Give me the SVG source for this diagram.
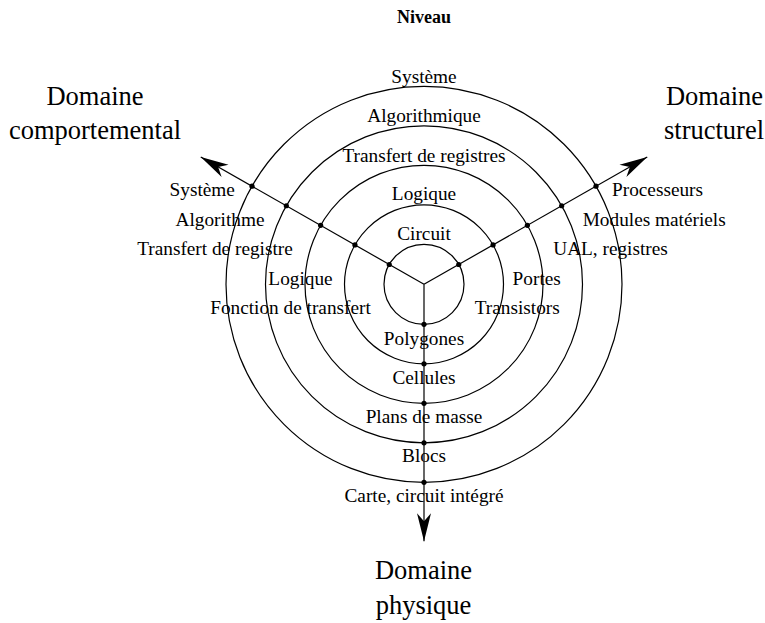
<svg xmlns="http://www.w3.org/2000/svg" width="765" height="623" viewBox="0 0 765 623">
<style>
  .ring { fill: none; stroke: #000; stroke-width: 1.2; }
  .axis { fill: none; stroke: #000; stroke-width: 1.2; marker-end: url(#arrow); }
  .dot { fill: #000; }
  text { font-family: "Liberation Serif", "Times New Roman", serif; fill: #000; }
  .lbl { font-size: 19.3px; text-anchor: middle; }
  .dom { font-size: 26.5px; text-anchor: middle; }
  .title { font-size: 18px; font-weight: bold; text-anchor: middle; }
</style>
<defs>
  <marker id="arrow" viewBox="-29 -8 30 16" refX="0" refY="0" markerWidth="30" markerHeight="16" markerUnits="userSpaceOnUse" orient="auto">
    <path d="M0,0 L-28,-7 L-20,0 L-28,7 Z" fill="#000"/>
  </marker>
</defs>
<rect width="765" height="623" fill="#fff"/>

<g id="title"><text class="title" x="424" y="23">Niveau</text></g>

<g id="rings">
  <circle class="ring" cx="424" cy="284.3" r="40"/>
  <circle class="ring" cx="424" cy="284.3" r="79.5"/>
  <circle class="ring" cx="424" cy="284.3" r="119"/>
  <circle class="ring" cx="424" cy="284.3" r="158.5"/>
  <circle class="ring" cx="424" cy="284.3" r="198"/>
</g>

<g id="connectors">
  <line class="axis" x1="424" y1="284.3" x2="200.76" y2="156.97"/>
  <line class="axis" x1="424" y1="284.3" x2="647.24" y2="156.97"/>
  <line class="axis" x1="424" y1="284.3" x2="424" y2="541.3"/>
</g>

<g id="dots">
  <circle class="dot" cx="389.25" cy="264.48" r="2.6"/>
  <circle class="dot" cx="354.94" cy="244.91" r="2.6"/>
  <circle class="dot" cx="320.63" cy="225.34" r="2.6"/>
  <circle class="dot" cx="286.32" cy="205.77" r="2.6"/>
  <circle class="dot" cx="252.01" cy="186.2" r="2.6"/>
  <circle class="dot" cx="458.75" cy="264.48" r="2.6"/>
  <circle class="dot" cx="493.06" cy="244.91" r="2.6"/>
  <circle class="dot" cx="527.37" cy="225.34" r="2.6"/>
  <circle class="dot" cx="561.68" cy="205.77" r="2.6"/>
  <circle class="dot" cx="595.99" cy="186.2" r="2.6"/>
  <circle class="dot" cx="424" cy="324.3" r="2.6"/>
  <circle class="dot" cx="424" cy="363.8" r="2.6"/>
  <circle class="dot" cx="424" cy="403.3" r="2.6"/>
  <circle class="dot" cx="424" cy="442.8" r="2.6"/>
  <circle class="dot" cx="424" cy="482.3" r="2.6"/>
</g>

<g id="levels">
  <text class="lbl" x="424" y="83.3">Système</text>
  <text class="lbl" x="424" y="121.7">Algorithmique</text>
  <text class="lbl" x="424" y="161.5">Transfert de registres</text>
  <text class="lbl" x="424" y="200.3">Logique</text>
  <text class="lbl" x="424" y="240">Circuit</text>
</g>

<g id="behavioural">
  <text class="dom" x="95" y="105">Domaine</text>
  <text class="dom" x="95" y="138.5">comportemental</text>
  <text class="lbl" x="202.2" y="196">Système</text>
  <text class="lbl" x="220" y="226">Algorithme</text>
  <text class="lbl" x="215" y="255">Transfert de registre</text>
  <text class="lbl" x="300.5" y="285">Logique</text>
  <text class="lbl" x="290.5" y="314">Fonction de transfert</text>
</g>

<g id="structural">
  <text class="dom" x="714.5" y="105">Domaine</text>
  <text class="dom" x="714" y="138.5">structurel</text>
  <text class="lbl" x="657.5" y="196">Processeurs</text>
  <text class="lbl" x="654.2" y="226">Modules matériels</text>
  <text class="lbl" x="610.5" y="255">UAL, registres</text>
  <text class="lbl" x="536.7" y="285">Portes</text>
  <text class="lbl" x="517.2" y="314">Transistors</text>
</g>

<g id="physical">
  <text class="lbl" x="424" y="345">Polygones</text>
  <text class="lbl" x="424" y="383.5">Cellules</text>
  <text class="lbl" x="424" y="423.3">Plans de masse</text>
  <text class="lbl" x="424" y="462.3">Blocs</text>
  <text class="lbl" x="424" y="501.7">Carte, circuit intégré</text>
  <text class="dom" x="423.5" y="579">Domaine</text>
  <text class="dom" x="423.5" y="614">physique</text>
</g>
</svg>
